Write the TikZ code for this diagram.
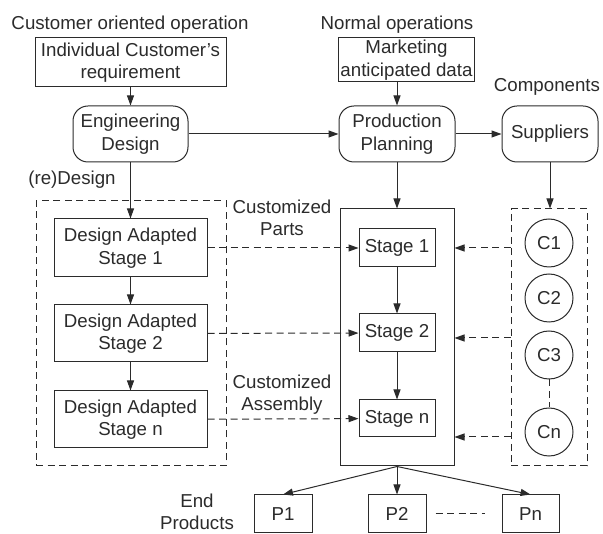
\documentclass[tikz,border=0pt]{standalone}
\usepackage{fontspec}
\setmainfont{Liberation Sans}
\usetikzlibrary{arrows.meta}
\definecolor{ink}{rgb}{0.17,0.17,0.17}
\begin{document}
\begin{tikzpicture}[x=1pt,y=-1pt,
  every node/.style={font=\fontsize{18.7}{22.4}\selectfont, text=ink, inner sep=2pt, align=center},
  box/.style={draw=ink, line width=1pt, rectangle},
  rbox/.style={draw=ink, line width=1pt, rectangle, rounded corners=15pt},
  comp/.style={draw=ink, line width=1pt, circle, minimum size=48pt, inner sep=0pt},
  arr/.style={draw=ink, line width=1pt, -{Triangle[length=10pt,width=7pt]}},
  darr/.style={draw=ink, line width=1pt, dash pattern=on 7pt off 4.5pt, -{Triangle[length=10pt,width=7pt]}},
  dline/.style={draw=ink, line width=1pt, dash pattern=on 7pt off 4.5pt},
  frame/.style={draw=ink, line width=1pt, dash pattern=on 7pt off 4.5pt, rectangle, inner sep=0pt},
]
\useasboundingbox (0,0) rectangle (603,534);

% titles
\node (t1) at (130,25) {Customer oriented operation};
\node (t2) at (397,25) {Normal operations};
\node (t3) at (547,87) {Components};
\node (t4) at (72,180) {(re)Design};
\node (t5) at (282,218) {Customized\\Parts};
\node (t6) at (282,394.5) {Customized\\Assembly};
\node (t7) at (197,512) {End\\Products};

% top boxes
\node[box, minimum width=191pt, minimum height=49pt] (icr) at (130.5,62.5) {Individual Customer’s\\requirement};
\node[box, minimum width=135pt, minimum height=44pt] (mkt) at (406.5,60) {Marketing\\anticipated data};
\node[rbox, minimum width=115pt, minimum height=56pt] (ed) at (130.5,134) {Engineering\\Design};
\node[rbox, minimum width=116pt, minimum height=56pt] (pp) at (397,134) {Production\\Planning};
\node[rbox, minimum width=96pt, minimum height=56pt] (sup) at (550,134) {Suppliers};

% left dashed frame
\node[frame, minimum width=190pt, minimum height=265pt] (lf) at (131,333.5) {};
\node[box, minimum width=153pt, minimum height=58pt] (d1) at (130.5,248) {Design Adapted\\Stage 1};
\node[box, minimum width=153pt, minimum height=57pt] (d2) at (130.5,333.5) {Design Adapted\\Stage 2};
\node[box, minimum width=153pt, minimum height=57pt] (dn) at (130.5,419.5) {Design Adapted\\Stage n};

% central box
\node[box, minimum width=114pt, minimum height=257pt] (big) at (397,337.5) {};
\node[box, minimum width=76pt, minimum height=38pt] (s1) at (397,248) {Stage 1};
\node[box, minimum width=76pt, minimum height=38pt] (s2) at (397,333) {Stage 2};
\node[box, minimum width=76pt, minimum height=37pt] (sn) at (397,418.5) {Stage n};

% components frame
\node[frame, minimum width=76pt, minimum height=257pt] (rf) at (549,337.5) {};
\node[comp] (c1) at (549,243) {C1};
\node[comp] (c2) at (549,298) {C2};
\node[comp] (c3) at (549,355) {C3};
\node[comp] (cn) at (549,432) {Cn};

% products
\node[box, minimum width=58pt, minimum height=38pt] (p1) at (283,514) {P1};
\node[box, minimum width=58pt, minimum height=38pt] (p2) at (397,514) {P2};
\node[box, minimum width=57pt, minimum height=38pt] (pn) at (530.5,514) {Pn};

% connectors
\draw[arr] (icr) -- (ed);
\draw[arr] (mkt.south -| pp) -- (pp);
\draw[arr] (ed) -- (pp);
\draw[arr] (pp) -- (sup);
\draw[arr] (ed) -- (d1);
\draw[arr] (d1) -- (d2);
\draw[arr] (d2) -- (dn);
\draw[arr] (pp) -- (big);
\draw[arr] (sup.south) -- (rf.north -| sup.south);
\draw[arr] (s1) -- (s2);
\draw[arr] (s2) -- (sn);
\draw[darr] (d1) -- (s1);
\draw[darr] (d2) -- (s2);
\draw[darr] (dn) -- (sn);
\draw[darr] (rf.west |- 0,248) -- (big.east |- 0,248);
\draw[darr] (rf.west |- 0,338) -- (big.east |- 0,338);
\draw[darr] (rf.west |- 0,437) -- (big.east |- 0,437);
\draw[dline] (c3) -- (cn);
\draw[arr] (big.south) -- (p1.north);
\draw[arr] (big.south) -- (p2.north);
\draw[arr] (big.south) -- (pn.north);
\draw[dline] (p2.east) ++(9,0) coordinate (q1) (pn.west) ++(-17,0) coordinate (q2);
\draw[dline] (q1) -- (q2);
\end{tikzpicture}
\end{document}
